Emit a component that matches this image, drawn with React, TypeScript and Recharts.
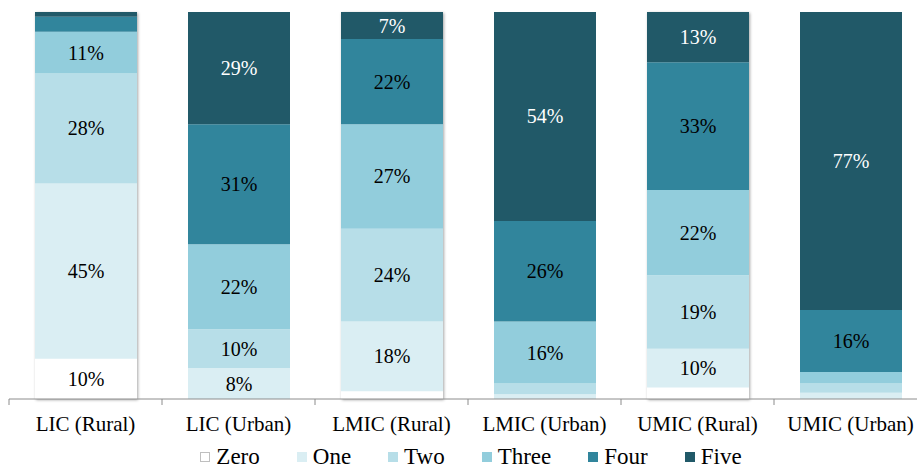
import { BarChart, Bar, XAxis, YAxis, Legend, LabelList } from 'recharts'

// share of households by number of items owned, per income group / area
const categories = ['LIC (Rural)', 'LIC (Urban)', 'LMIC (Rural)', 'LMIC (Urban)', 'UMIC (Rural)', 'UMIC (Urban)']
const zero = [10.4, 0, 2, 0, 3, 0]
const one = [45.3, 8, 18, 1.2, 10, 1.6]
const two = [28.4, 10, 24, 2.8, 19, 2.4]
const three = [10.8, 22, 27, 16, 22, 3]
const four = [3.9, 31, 22, 26, 33, 16]
const five = [1.2, 29, 7, 54, 13, 77]

const seriesKeys = ['zero', 'one', 'two', 'three', 'four', 'five']
const seriesNames = ['Zero', 'One', 'Two', 'Three', 'Four', 'Five']
const seriesColors = ['#FFFFFF', '#DAEEF3', '#B7DEE8', '#92CDDC', '#31859C', '#215968']
const labelColors = ['#000', '#000', '#000', '#000', '#000', '#fff']

const FONT = "'Liberation Serif', 'Times New Roman', serif"
const PLOT_WIDTH = 918

const data = categories.map((name, i) => ({
  name,
  zero: zero[i],
  one: one[i],
  two: two[i],
  three: three[i],
  four: four[i],
  five: five[i],
}))

function makeLabel(color: string) {
  return function SegmentLabel(props: any) {
    const { x, y, width, height } = props
    let value = props.value
    if (Array.isArray(value)) value = value[1] - value[0]
    if (value == null || value < 5) return null
    return (
      <text
        x={x + width / 2}
        y={y + height / 2}
        textAnchor="middle"
        dominantBaseline="central"
        fontSize={20}
        fontFamily={FONT}
        fill={color}
      >
        {`${Math.round(value)}%`}
      </text>
    )
  }
}

function CategoryTick(props: any) {
  const { x, y, payload, width, visibleTicksCount } = props
  const band = width && visibleTicksCount ? width / visibleTicksCount : PLOT_WIDTH / categories.length
  const left = x - band / 2
  return (
    <g>
      <line x1={left} x2={left} y1={y} y2={y + 6} stroke="#8c8c8c" strokeWidth={1} />
      <text x={x} y={y + 32} textAnchor="middle" fontSize={21} fontFamily={FONT} fill="#000">
        {payload.value}
      </text>
    </g>
  )
}

function StackShadow(props: any) {
  const { x, y, width, height } = props
  return (
    <rect
      x={x}
      y={y}
      width={width}
      height={height}
      fill="#fff"
      style={{ filter: 'drop-shadow(1px 1px 1.5px rgba(0,0,0,0.35))' }}
    />
  )
}

function LegendContent() {
  return (
    <div
      style={{
        display: 'flex',
        justifyContent: 'center',
        paddingTop: 8,
        paddingLeft: 6,
        fontFamily: FONT,
        fontSize: 23,
        lineHeight: '22px',
        color: '#000',
      }}
    >
      {seriesNames.map((n, i) => (
        <div key={n} style={{ display: 'flex', alignItems: 'center', marginRight: i < seriesNames.length - 1 ? 37 : 0 }}>
          <span
            style={{
              display: 'inline-block',
              width: 10,
              height: 10,
              marginRight: 6,
              background: seriesColors[i],
              border: i === 0 ? '1px solid #bfbfbf' : 'none',
              boxSizing: 'border-box',
            }}
          />
          <span style={{ fontFamily: FONT, fontSize: 23 }}>{n}</span>
        </div>
      ))}
    </div>
  )
}

export default function App() {
  return (
    <div
      style={{
        position: 'absolute',
        left: 0,
        top: 0,
        width: 917,
        height: 468,
        overflow: 'hidden',
        background: '#fff',
        fontFamily: FONT,
      }}
    >
      <BarChart width={927} height={468} data={data} margin={{ top: 12, right: 0, left: 9, bottom: 0 }} barSize={102}>
        <XAxis
          dataKey="name"
          interval={0}
          height={39}
          tickLine={false}
          tickSize={0}
          tickMargin={0}
          axisLine={{ stroke: '#8c8c8c', strokeWidth: 1 }}
          tick={<CategoryTick />}
        />
        <YAxis hide domain={[0, 100]} allowDataOverflow />
        <Legend
          verticalAlign="bottom"
          height={30}
          content={<LegendContent />}
          wrapperStyle={{ fontFamily: FONT }}
        />
        {seriesKeys.map((key, i) => (
          <Bar
            key={key}
            dataKey={key}
            name={seriesNames[i]}
            stackId="a"
            fill={seriesColors[i]}
            isAnimationActive={false}
            background={i === 0 ? <StackShadow /> : undefined}
          >
            <LabelList dataKey={key} content={makeLabel(labelColors[i])} />
          </Bar>
        ))}
      </BarChart>
    </div>
  )
}
